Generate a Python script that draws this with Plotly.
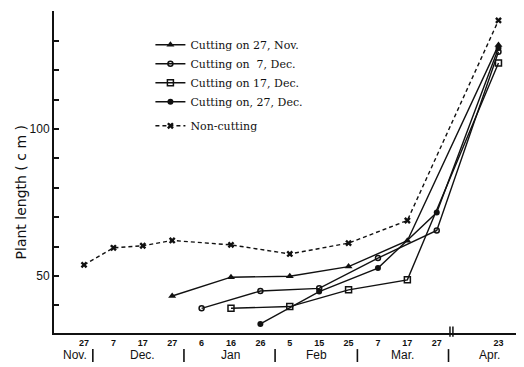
import plotly.graph_objects as go

# ---- data ----
nc_dates = ["1961-11-27", "1961-12-07", "1961-12-17", "1961-12-27", "1962-01-16",
            "1962-02-05", "1962-02-25", "1962-03-17", "1962-04-23"]
nc_vals = [53.8, 59.6, 60.3, 62.1, 60.6, 57.5, 61.2, 68.9, 137.0]

tri_dates = ["1961-12-27", "1962-01-16", "1962-02-05", "1962-02-25", "1962-03-17", "1962-04-23"]
tri_vals = [43.2, 49.6, 49.9, 53.2, 62.0, 128.6]

oc_dates = ["1962-01-06", "1962-01-26", "1962-02-15", "1962-03-07", "1962-03-27", "1962-04-23"]
oc_vals = [39.0, 44.9, 45.8, 56.1, 65.5, 126.3]

sq_dates = ["1962-01-16", "1962-02-05", "1962-02-25", "1962-03-17", "1962-04-23"]
sq_vals = [39.0, 39.6, 45.3, 48.7, 122.5]

fc_dates = ["1962-01-26", "1962-02-15", "1962-03-07", "1962-03-27", "1962-04-23"]
fc_vals = [33.7, 44.7, 52.7, 71.6, 127.6]

series_names = ["Cutting on 27, Nov.", "Cutting on  7, Dec.", "Cutting on 17, Dec.",
                "Cutting on, 27, Dec.", "Non-cutting"]

day_tick_dates = ["1961-11-27", "1961-12-07", "1961-12-17", "1961-12-27", "1962-01-06",
                  "1962-01-16", "1962-01-26", "1962-02-05", "1962-02-15", "1962-02-25",
                  "1962-03-07", "1962-03-17", "1962-03-27", "1962-04-23"]
day_tick_text = ["27", "7", "17", "27", "6", "16", "26", "5", "15", "25", "7", "17", "27", "23"]

month_labels = ["Nov.", "Dec.", "Jan", "Feb", "Mar.", "Apr."]
month_label_dates = ["1961-11-24", "1961-12-17", "1962-01-16", "1962-02-14", "1962-03-15 12:00", "1962-04-20"]
month_sep_dates = ["1961-11-30", "1961-12-31", "1962-01-31", "1962-02-28", "1962-03-31", "1962-04-30 12:00"]

y_tick_vals = [40, 50, 60, 70, 80, 90, 100, 110, 120, 130, 140]
y_tick_text = ["", "50", "", "", "", "", "100", "", "", "", ""]

BLACK = "#111111"
LW = 1.4
SANS = "Liberation Sans, Arial, sans-serif"

fig = go.Figure()
fig.add_trace(go.Scatter(x=tri_dates, y=tri_vals, name=series_names[0], mode="lines+markers",
                         legendgroup="cut",
                         line=dict(color=BLACK, width=LW),
                         marker=dict(symbol="triangle-up", size=7, color=BLACK)))
fig.add_trace(go.Scatter(x=oc_dates, y=oc_vals, name=series_names[1], mode="lines+markers",
                         legendgroup="cut",
                         line=dict(color=BLACK, width=LW),
                         marker=dict(symbol="circle-open", size=5, color=BLACK, line=dict(width=1.5))))
fig.add_trace(go.Scatter(x=sq_dates, y=sq_vals, name=series_names[2], mode="lines+markers",
                         legendgroup="cut",
                         line=dict(color=BLACK, width=LW),
                         marker=dict(symbol="square-open", size=6, color=BLACK, line=dict(width=1.5))))
fig.add_trace(go.Scatter(x=fc_dates, y=fc_vals, name=series_names[3], mode="lines+markers",
                         legendgroup="cut",
                         line=dict(color=BLACK, width=LW),
                         marker=dict(symbol="circle", size=6, color=BLACK)))
fig.add_trace(go.Scatter(x=nc_dates, y=nc_vals, name=series_names[4], mode="lines+markers",
                         legendgroup="non",
                         line=dict(color=BLACK, width=LW, dash="4px,3px"),
                         marker=dict(symbol="x", size=6, color=BLACK)))

annotations = []
for lab, d in zip(month_labels, month_label_dates):
    annotations.append(dict(x=d, y=-0.068, xref="x", yref="paper", text=lab, showarrow=False,
                            font=dict(family=SANS, size=12, color=BLACK),
                            xanchor="center", yanchor="middle"))
annotations.append(dict(x=-0.0716, y=0.438, xref="paper", yref="paper", text="Plant length ( c m )",
                        textangle=-90, showarrow=False,
                        font=dict(family="DejaVu Sans, sans-serif", size=14, color=BLACK),
                        xanchor="center", yanchor="middle"))

shapes = []
for d in month_sep_dates:
    shapes.append(dict(type="line", xref="x", yref="paper", x0=d, x1=d, y0=-0.09, y1=-0.05,
                       line=dict(color=BLACK, width=1.6)))
for d in ["1962-03-31 12:00", "1962-04-07 12:00"]:
    shapes.append(dict(type="line", xref="x", yref="paper", x0=d, x1=d, y0=-0.012, y1=0.02,
                       line=dict(color=BLACK, width=1.5)))

# the page body adds an 8px margin, so the figure is sized/margined to compensate
fig.update_layout(
    width=516, height=359,
    margin=dict(l=46, r=2, t=3, b=34),
    paper_bgcolor="white", plot_bgcolor="white",
    font=dict(family=SANS, color=BLACK),
    showlegend=True,
    legend=dict(x=0.206, y=0.94, xanchor="left", yanchor="top",
                bgcolor="rgba(0,0,0,0)", borderwidth=0, tracegroupgap=5,
                font=dict(family="DejaVu Serif, serif", size=11, color=BLACK),
                itemwidth=30),
    annotations=annotations,
    shapes=shapes,
)
fig.update_xaxes(
    type="date",
    range=["1961-11-16 19:00", "1962-05-01"],
    rangebreaks=[dict(bounds=["1962-04-01", "1962-04-07"])],
    tickmode="array", tickvals=day_tick_dates, ticktext=day_tick_text,
    tickfont=dict(family=SANS, size=9, color=BLACK, weight="bold"),
    ticks="", showgrid=False, zeroline=False,
    showline=True, linecolor=BLACK, linewidth=1.8,
)
fig.update_yaxes(
    range=[30.6, 140.2],
    tickmode="array", tickvals=y_tick_vals, ticktext=y_tick_text,
    ticks="inside", ticklen=5, tickwidth=1.5, tickcolor=BLACK,
    tickfont=dict(family=SANS, size=12, color=BLACK),
    showgrid=False, zeroline=False,
    showline=True, linecolor=BLACK, linewidth=2,
)

fig.write_html("out.html")
